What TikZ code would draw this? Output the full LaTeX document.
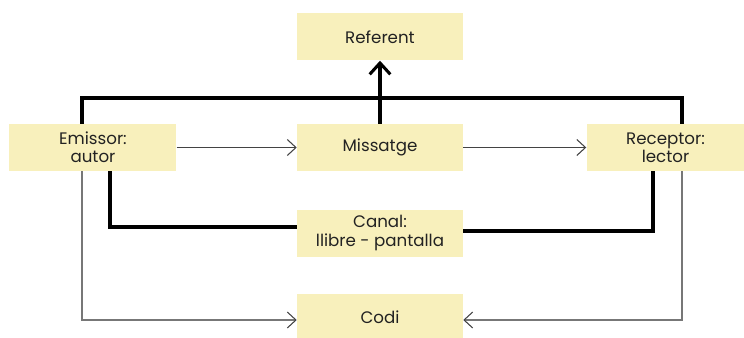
\documentclass[tikz,border=0pt]{standalone}
\usepackage{fontspec}
\setmainfont{Poppins}
\usepackage{tikz}
\usetikzlibrary{arrows.meta}
\usetikzlibrary{positioning}

\definecolor{boxfill}{HTML}{F8F0BC}
\definecolor{textdark}{HTML}{222222}
\definecolor{wiregray}{HTML}{777777}

\tikzset{
	box/.style={fill=boxfill, text=textdark, minimum width=124.5pt, minimum height=35.25pt,
		inner sep=0pt, align=center, font=\fontsize{12.5}{13.8}\selectfont},
	bond/.style={line width=2.3pt, line join=miter},
	flow/.style={draw=textdark!85, line width=0.8pt, -{Straight Barb[length=6.5pt,width=12pt,line width=0.8pt]}},
	code/.style={draw=wiregray, line width=0.9pt, -{Straight Barb[length=6.5pt,width=12pt,line width=0.8pt,color=textdark!85]}},
}

\begin{document}
\begin{tikzpicture}[x=0.75pt, y=-0.75pt]
			\useasboundingbox (0,0) rectangle (744,337);
			\node[box] (Missatge) at (380,147.5) {Missatge};
			\node[box] (Referent) [above=47.25pt of Missatge] {Referent};
			\node[box] (Emissor) [left=90pt of Missatge, minimum width=125.25pt] {Emissor:\\autor};
			\node[box] (Receptor) [right=92.25pt of Missatge, minimum width=118.5pt] {Receptor:\\lector};
			\node[box] (Canal) [below=28.5pt of Missatge] {Canal:\\llibre - pantalla};
			\node[box] (Codi) [below=27.75pt of Canal] {Codi};

			% turning points of the wires
			\coordinate (TopL) at (82,98);
			\coordinate (TopR) at (682,98);
			\coordinate (ChanL) at (110,227);
			\coordinate (ChanR) at (653,231);
			\coordinate (CodeL) at (82,320);
			\coordinate (CodeR) at (682,320);

			\draw[bond] (Emissor.north -| TopL) -- (TopL) -- (TopR) -- (Receptor.north -| TopR);
			\draw[bond, -{Straight Barb[length=8.5pt,width=15.5pt,line width=2.3pt]}] (Missatge) -- (Referent);
			\draw[bond] (Emissor.south -| ChanL) |- (Canal.west |- ChanL);
			\draw[bond] (Canal.east |- ChanR) -| (Receptor.south -| ChanR);

			\draw[flow] (Emissor) -- (Missatge);
			\draw[flow] (Missatge) -- (Receptor);
			\draw[code] (Emissor.south -| CodeL) |- (Codi.west |- CodeL);
			\draw[code] (Receptor.south -| CodeR) |- (Codi.east |- CodeR);
\end{tikzpicture}
\end{document}
